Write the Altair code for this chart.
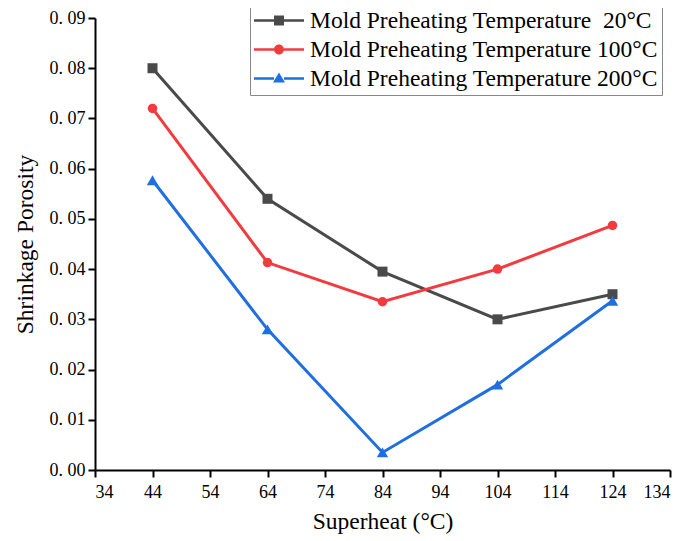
import altair as alt
import pandas as pd

superheat = [44, 64, 84, 104, 124]
series_names = [
    "Mold Preheating Temperature \u00a020°C",
    "Mold Preheating Temperature 100°C",
    "Mold Preheating Temperature 200°C",
]
porosity_20 = [0.0800, 0.0540, 0.0395, 0.0300, 0.0350]
porosity_100 = [0.0720, 0.0413, 0.0335, 0.0400, 0.0487]
porosity_200 = [0.0577, 0.0280, 0.0035, 0.0170, 0.0337]

colors = ["#4a4a4a", "#f23b3f", "#1f6fe0"]
shapes = ["square", "circle", "triangle-up"]

rows = []
for name, vals in zip(series_names, [porosity_20, porosity_100, porosity_200]):
    for x, y in zip(superheat, vals):
        rows.append({"Superheat": x, "Porosity": y, "Series": name})
df = pd.DataFrame(rows)

FONT = "Liberation Serif"

x_enc = alt.X(
    "Superheat:Q",
    scale=alt.Scale(domain=[34, 134], nice=False, zero=False),
    axis=alt.Axis(
        values=list(range(34, 135, 10)),
        title="Superheat (°C)",
        grid=False,
        labelFont=FONT,
        titleFont=FONT,
    ),
)
y_enc = alt.Y(
    "Porosity:Q",
    scale=alt.Scale(domain=[0, 0.09], nice=False),
    axis=alt.Axis(
        values=[i / 100 for i in range(0, 10)],
        labelExpr="replace(format(datum.value, '.2f'), '.', '. ')",
        title="Shrinkage Porosity",
        grid=False,
        labelFont=FONT,
        titleFont=FONT,
    ),
)
color_scale = alt.Scale(domain=series_names, range=colors)

sq_path = "M-1,-0.05 L-0.2,-0.05 L-0.2,0.05 L-1,0.05 Z M0.2,-0.05 L1,-0.05 L1,0.05 L0.2,0.05 Z M-0.2,-0.2 L0.2,-0.2 L0.2,0.2 L-0.2,0.2 Z"
ci_path = "M-1,-0.05 L-0.2,-0.05 L-0.2,0.05 L-1,0.05 Z M0.2,-0.05 L1,-0.05 L1,0.05 L0.2,0.05 Z M-0.2,0 A0.2,0.2 0 1,1 0.2,0 A0.2,0.2 0 1,1 -0.2,0 Z"
tr_path = "M-1,-0.05 L-0.2,-0.05 L-0.2,0.05 L-1,0.05 Z M0.2,-0.05 L1,-0.05 L1,0.05 L0.2,0.05 Z M0,-0.24 L0.24,0.16 L-0.24,0.16 Z"

legend_cfg = dict(
    title=None,
    orient="none",
    legendX=155,
    legendY=-14,
    symbolSize=2500,
    symbolStrokeWidth=0,
    symbolOpacity=1,
    clipHeight=25,
    labelFont=FONT,
    labelFontSize=23.5,
    labelColor="#000000",
    labelLimit=500,
    rowPadding=4,
    symbolOffset=0,
    labelOffset=6,
    padding=4,
    strokeColor="#888888",
    fillColor="#ffffff",
)

color_enc = alt.Color("Series:N", scale=color_scale, legend=alt.Legend(**legend_cfg))

lines = alt.Chart(df).mark_line(strokeWidth=3).encode(x=x_enc, y=y_enc, color=color_enc)

point_layers = []
for name, shp, sz in zip(series_names, shapes, [100, 90, 130]):
    point_layers.append(
        alt.Chart(df)
        .transform_filter(alt.datum.Series == name)
        .mark_point(shape=shp, filled=True, size=sz, opacity=1)
        .encode(x=x_enc, y=y_enc, color=color_enc)
    )

legend_layer = (
    alt.Chart(df)
    .transform_filter("datum.Superheat < 0")
    .mark_point(filled=True, size=2500, opacity=1)
    .encode(
        x=x_enc,
        y=y_enc,
        color=color_enc,
        shape=alt.Shape(
            "Series:N",
            scale=alt.Scale(domain=series_names, range=[sq_path, ci_path, tr_path]),
            legend=alt.Legend(**legend_cfg),
        ),
    )
)

chart = (
    alt.layer(lines, *point_layers, legend_layer)
    .properties(
        width=575,
        height=452,
        autosize=alt.AutoSizeParams(type="none"),
        padding={"left": 87, "top": 10, "right": 7, "bottom": 71},
    )
    .configure_view(stroke=None)
    .configure_axis(
        labelFont=FONT,
        titleFont=FONT,
        labelFontSize=18,
        titleFontSize=23.5,
        titleFontWeight="normal",
        labelColor="#000000",
        titleColor="#000000",
        domainColor="#000000",
        tickColor="#000000",
        domainWidth=2,
        tickWidth=2,
        tickSize=7,
        labelPadding=3,
    )
    .configure_axisX(titlePadding=8, labelPadding=6)
    .configure_axisY(titlePadding=12)
)

chart.save("out.html", embed_options={"renderer": "svg", "actions": False})
